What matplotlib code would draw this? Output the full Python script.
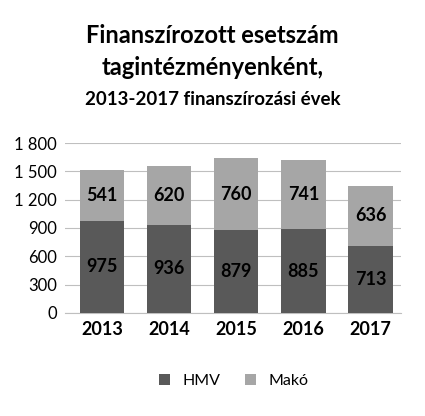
import matplotlib
matplotlib.use("Agg")
import matplotlib.pyplot as plt

years = ["2013", "2014", "2015", "2016", "2017"]
hmv = [975, 936, 879, 885, 713]
mako = [541, 620, 760, 741, 636]
yticks = [0, 300, 600, 900, 1200, 1500, 1800]
ytick_labels = ["0", "300", "600", "900", "1 200", "1 500", "1 800"]

plt.rcParams['font.family'] = ['Lato', 'DejaVu Sans']
fig = plt.figure(figsize=(4.25, 4.16), dpi=100)
ax = fig.add_axes([0.153, 0.248, 0.79, 0.408])
x = range(len(years))
c1, c2 = "#595959", "#a6a6a6"
b1 = ax.bar(x, hmv, 0.66, color=c1, label="HMV", zorder=3)
b2 = ax.bar(x, mako, 0.66, bottom=hmv, color=c2, label="Makó", zorder=3)
for i in x:
    ax.text(i, hmv[i]/2, str(hmv[i]), ha="center", va="center", fontsize=13, fontweight="bold", zorder=4)
    ax.text(i, hmv[i]+mako[i]/2, str(mako[i]), ha="center", va="center", fontsize=13, fontweight="bold", zorder=4)
ax.set_ylim(0, 1800)
ax.set_xlim(-0.55, 4.45)
ax.set_yticks(yticks)
ax.set_yticklabels(ytick_labels, fontsize=12)
ax.set_xticks(list(x))
ax.set_xticklabels(years, fontsize=13, fontweight="bold")
ax.grid(axis="y", color="#bfbfbf", lw=0.8, zorder=0)
for s in ["top", "right", "left"]:
    ax.spines[s].set_visible(False)
ax.spines["bottom"].set_color("#bfbfbf")
ax.tick_params(length=0, pad=6)
fig.text(0.5, 0.915, "Finanszírozott esetszám", ha="center", va="center", fontsize=17, fontweight="bold")
fig.text(0.5, 0.838, "tagintézményenként,", ha="center", va="center", fontsize=17, fontweight="bold")
fig.text(0.5, 0.762, "2013-2017 finanszírozási évek", ha="center", va="center", fontsize=13.5, fontweight="bold")
fig.legend(handles=[b1, b2], loc="center", bbox_to_anchor=(0.55, 0.085), ncol=2, frameon=False,
           fontsize=11.5, handlelength=0.7, handleheight=0.7, columnspacing=1.5)
fig.savefig("out.png", dpi=100)
